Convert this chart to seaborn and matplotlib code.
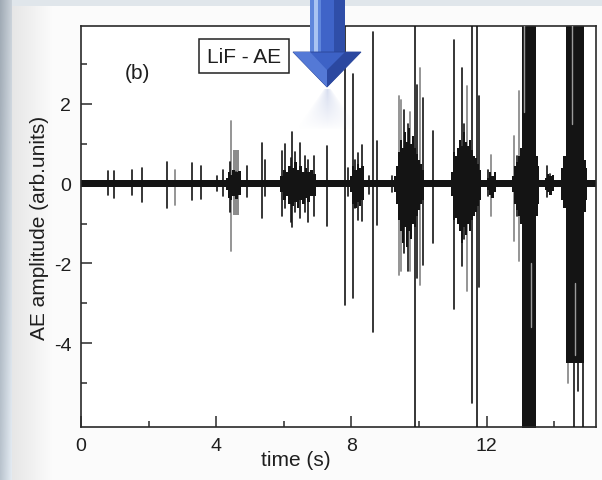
import numpy as np
import pandas as pd
import matplotlib
matplotlib.use("Agg")
import matplotlib.pyplot as plt
import seaborn as sns
from matplotlib.patches import Polygon
from matplotlib.ticker import FixedLocator

# ---------------------------------------------------------------
# Acoustic-emission record of a LiF crystal: isolated spikes
# (time in s, positive and negative peak amplitude, trace tone)
# ---------------------------------------------------------------
spike_time = [0.79, 0.99, 1.50, 1.80, 2.55, 2.78, 3.29, 3.54, 4.01, 4.21,
              4.40, 4.44, 4.60, 4.92, 5.37, 5.44, 5.96, 6.04, 6.20, 6.24,
              6.32, 6.48, 6.63, 6.73, 6.90, 7.27, 7.81, 7.90, 8.05, 8.12,
              8.20, 8.32, 8.52, 8.65, 8.75, 9.20, 9.40, 9.47, 9.55, 9.67,
              9.73, 9.88, 9.95, 10.02, 10.11, 10.43, 11.04, 11.26, 11.32, 11.41,
              11.56, 11.72, 11.78, 12.05, 12.12, 12.81, 12.90, 12.96, 13.78, 13.88,
              14.40, 14.60, 14.70, 14.85]
spike_high = [0.31, 0.31, 0.33, 0.38, 0.55, 0.33, 0.52, 0.44, 0.20, 0.34,
              0.55, 1.56, 0.30, 0.45, 1.02, 0.60, 0.81, 1.00, 0.63, 1.29,
              0.80, 1.02, 0.70, 0.60, 0.70, 0.95, 4.20, 0.40, 2.73, 0.60,
              0.77, 0.97, 0.20, 3.78, 1.06, 0.20, 2.18, 2.10, 1.85, 1.50,
              1.80, 4.20, 2.47, 2.89, 2.14, 1.31, 3.60, 2.89, 1.50, 2.43,
              4.20, 4.20, 2.20, 0.35, 0.72, 1.18, 0.70, 2.31, 0.43, 0.25,
              1.00, 1.00, 1.00, 1.00]
spike_low = [-0.28, -0.35, -0.29, -0.47, -0.60, -0.53, -0.40, -0.38, -0.19, -0.32,
             -0.70, -1.69, -0.30, -0.33, -0.86, -0.30, -0.82, -0.60, -0.95, -1.09,
             -0.70, -0.86, -0.70, -0.95, -0.80, -1.05, -3.03, -0.30, -2.86, -0.60,
             -0.90, -0.94, -0.25, -3.72, -1.03, -0.20, -2.28, -2.20, -1.75, -2.20,
             -2.20, -6.40, -2.36, -2.53, -2.03, -1.48, -3.15, -2.07, -1.40, -2.69,
             -5.50, -6.40, -2.60, -0.30, -0.82, -1.44, -0.80, -1.94, -0.33, -0.20,
             -5.00, -6.40, -5.20, -6.40]
spike_tone = ["black", "black", "black", "black", "black", "gray", "black", "black", "black", "black",
              "black", "gray", "black", "black", "black", "black", "black", "black", "black", "black",
              "black", "black", "black", "black", "black", "black", "black", "black", "black", "black",
              "black", "black", "black", "black", "black", "black", "gray", "gray", "black", "black",
              "gray", "black", "black", "gray", "black", "black", "black", "black", "black", "gray",
              "black", "black", "black", "black", "gray", "gray", "black", "gray", "black", "black",
              "gray", "black", "black", "black"]

# ragged envelopes of the dense bursts (one id per burst, values held until next time)
burst_id = ([0] * 7 + [1] * 4 + [2] * 14 + [3] * 7 + [4] * 16 + [5] * 16 + [6] * 5
            + [7] * 9 + [8] * 5 + [9] * 6)
burst_time = [4.30, 4.36, 4.42, 4.48, 4.56, 4.64, 4.72,
              4.47, 4.50, 4.66, 4.68,
              5.90, 5.98, 6.06, 6.14, 6.22, 6.30, 6.38, 6.46, 6.54, 6.62, 6.70, 6.78, 6.86, 6.94,
              7.95, 8.02, 8.09, 8.16, 8.23, 8.30, 8.37,
              9.25, 9.31, 9.37, 9.43, 9.49, 9.55, 9.61, 9.67, 9.73, 9.79, 9.85, 9.91, 9.97,
              10.03, 10.09, 10.15,
              10.95, 11.01, 11.07, 11.13, 11.19, 11.25, 11.31, 11.37, 11.43, 11.49, 11.55,
              11.61, 11.67, 11.73, 11.79, 11.85,
              12.00, 12.07, 12.14, 12.21, 12.28,
              12.76, 12.82, 12.88, 12.94, 13.00, 13.04, 13.47, 13.51, 13.56,
              13.72, 13.79, 13.86, 13.93, 14.00,
              14.21, 14.27, 14.34, 14.88, 14.93, 14.97]
burst_high = [0.15, 0.30, 0.22, 0.35, 0.28, 0.32, 0.15,
              0.10, 0.85, 0.85, 0.10,
              0.20, 0.35, 0.30, 0.45, 0.40, 0.55, 0.35, 0.45, 0.30, 0.40, 0.30, 0.35, 0.25, 0.15,
              0.20, 0.45, 0.35, 0.50, 0.40, 0.45, 0.15,
              0.20, 0.45, 0.80, 1.10, 0.90, 1.30, 1.05, 1.40, 1.00, 1.20, 0.90, 0.75, 0.60,
              0.50, 0.35, 0.20,
              0.30, 0.80, 0.70, 0.90, 1.10, 0.95, 1.30, 1.05, 0.95, 1.10, 0.85,
              0.70, 0.65, 0.50, 0.35, 0.20,
              0.15, 0.30, 0.20, 0.28, 0.12,
              0.20, 0.45, 0.55, 0.70, 0.90, 4.20, 0.70, 0.45, 0.15,
              0.15, 0.25, 0.18, 0.22, 0.10,
              0.40, 0.70, 4.20, 0.60, 0.40, 0.10]
burst_low = [-0.15, -0.35, -0.42, -0.30, -0.38, -0.28, -0.15,
             -0.10, -0.78, -0.78, -0.10,
             -0.20, -0.40, -0.30, -0.50, -0.55, -0.45, -0.60, -0.40, -0.50, -0.35, -0.45, -0.30,
             -0.30, -0.15,
             -0.20, -0.50, -0.60, -0.45, -0.55, -0.40, -0.15,
             -0.20, -0.50, -0.90, -1.20, -1.50, -1.10, -1.60, -1.20, -1.40, -1.00, -1.10, -0.80,
             -0.65, -0.50, -0.40, -0.20,
             -0.30, -0.90, -0.85, -1.00, -1.20, -1.50, -1.10, -1.30, -1.00, -1.20, -0.90,
             -0.80, -0.70, -0.55, -0.40, -0.20,
             -0.15, -0.28, -0.35, -0.22, -0.12,
             -0.20, -0.50, -0.65, -0.80, -1.00, -6.40, -0.80, -0.50, -0.15,
             -0.15, -0.22, -0.28, -0.18, -0.10,
             -0.40, -0.60, -4.50, -0.70, -0.40, -0.10]
burst_tone = ["black", "gray", "black", "black", "black", "black", "black", "black", "black", "black"]

# lighter streaks running through the two saturated bursts
streak_time = [13.12, 13.31, 14.52, 14.63]
streak_top = [4.20, -2.00, 4.20, -2.50]
streak_bottom = [1.80, -3.60, 1.50, -4.30]

noise_level = 0.09          # background noise half-width
record_length = 15.24       # s

x_ticks = [0, 4, 8, 12]
x_minor = [2, 6, 10, 14]
y_ticks = [-4, -2, 0, 2]
y_minor = [-5, -3, -1, 1, 3]

tones = {"black": "#141414", "gray": "#8c8c8c", "light": "#9a9a9a"}

spikes = pd.DataFrame({
    "time": np.repeat(spike_time, 2),
    "amp": np.ravel(np.column_stack([spike_low, spike_high])),
    "spike": np.repeat(np.arange(len(spike_time)), 2),
    "tone": np.repeat(spike_tone, 2),
})
streaks = pd.DataFrame({
    "time": np.repeat(streak_time, 2),
    "amp": np.ravel(np.column_stack([streak_bottom, streak_top])),
    "spike": np.repeat(np.arange(len(streak_time)), 2),
})
bursts = pd.DataFrame({"id": burst_id, "time": burst_time,
                       "high": burst_high, "low": burst_low})

sns.set_style("ticks")
plt.rcParams["font.family"] = ["Liberation Sans", "DejaVu Sans"]

W, H = 602, 481
fig = plt.figure(figsize=(W / 100, H / 100), dpi=100)

# ---- slide-like backdrop -------------------------------------------------
cols = np.arange(W)
rows = np.arange(H)
shade = np.clip((cols - 12) / 40.0, 0, 1)
page = 0.905 + (0.985 - 0.905) * shade
bg = np.repeat(np.repeat(page[None, :, None], H, axis=0), 3, axis=2)
left = np.array([0.63, 0.67, 0.71])
left_r = np.array([0.79, 0.82, 0.85])
for c in range(12):
    f = c / 11.0
    colr = left * (1 - f) + left_r * f
    vert = (rows / H)[:, None] * 0.10
    bg[:, c, :] = np.clip(colr[None, :] + vert, 0, 1)
bg[:7, 12:, :] = np.array([0.88, 0.905, 0.925])
bax = fig.add_axes([0, 0, 1, 1], zorder=0)
bax.imshow(bg, extent=(0, W, H, 0), aspect="auto", interpolation="bilinear")
bax.set_axis_off()

# ---- main panel -------------------------------------------------------------
ax = fig.add_axes([81 / W, 1 - 428 / H, (596 - 81) / W, (428 - 27) / H], zorder=2)
ax.set_facecolor("white")

ax.fill_between([0, record_length], -noise_level, noise_level,
                color=tones["black"], lw=0, zorder=2)
for bid, grp in bursts.groupby("id"):
    tone = burst_tone[bid]
    ax.fill_between(grp["time"], grp["low"], grp["high"], step="post",
                    color=tones[tone], lw=0,
                    zorder=1.5 if tone == "gray" else 2.5)

for tone, z, lw in (("gray", 1.8, 1.3), ("black", 2.6, 1.2)):
    sub = spikes[spikes["tone"] == tone]
    sns.lineplot(data=sub, x="time", y="amp", units="spike", estimator=None,
                 sort=False, color=tones[tone], lw=lw, ax=ax, zorder=z)
sns.lineplot(data=streaks, x="time", y="amp", units="spike", estimator=None,
             sort=False, color=tones["light"], lw=1.0, ax=ax, zorder=2.8)

ax.set_xlim(0, record_length)
ax.set_ylim(-6.09, 3.94)
ax.xaxis.set_major_locator(FixedLocator(x_ticks))
ax.xaxis.set_minor_locator(FixedLocator(x_minor))
ax.yaxis.set_major_locator(FixedLocator(y_ticks))
ax.yaxis.set_minor_locator(FixedLocator(y_minor))
ax.set_xticklabels([str(v) for v in x_ticks])
ax.set_yticklabels([str(v) for v in y_ticks])
ax.tick_params(which="both", direction="in", top=False, right=False,
               color="#2a2a2a", width=1.1, labelcolor="#1e1e1e", labelsize=14)
ax.tick_params(axis="x", which="major", length=8, pad=7.5)
ax.tick_params(axis="y", which="major", length=8, pad=7)
ax.tick_params(which="minor", length=4)
for sp in ax.spines.values():
    sp.set_visible(True)
    sp.set_color("#2a2a2a")
    sp.set_linewidth(1.2)

ax.set_xlabel("time (s)", fontsize=15, color="#1e1e1e")
ax.xaxis.set_label_coords(0.417, -0.058)
ax.set_ylabel("AE amplitude (arb.units)", fontsize=15, color="#1e1e1e")
ax.yaxis.set_label_coords(-0.062, 0.5)

ax.text(0.109, 0.885, "(b)", transform=ax.transAxes, ha="center", va="center",
        fontsize=15, color="#1e1e1e", zorder=5)
ax.text(0.3165, 0.925, "LiF - AE", transform=ax.transAxes, ha="center", va="center",
        fontsize=15, color="#1e1e1e", zorder=5,
        bbox=dict(boxstyle="square,pad=0.38", fc="white", ec="#222222", lw=1.1))

# ---- blue pointer arrow (pixel coordinates) -------------------------------------
oax = fig.add_axes([0, 0, 1, 1], zorder=5)
oax.set_axis_off()
oax.patch.set_alpha(0)

# soft reflection under the tip
gh, gw = 40, 64
gy, gx = np.mgrid[0:gh, 0:gw]
half = 4 + gy * (gw / 2 - 4) / gh
inside = np.abs(gx - gw / 2) < half
fade = np.clip(1 - gy / gh, 0, 1) * np.clip(1 - np.abs(gx - gw / 2) / (half + 1e-9), 0, 1)
glow = np.zeros((gh, gw, 4))
glow[..., 0], glow[..., 1], glow[..., 2] = 0.62, 0.68, 0.85
glow[..., 3] = np.where(inside, 0.40 * fade ** 0.8, 0)
oax.imshow(glow, extent=(295, 359, 130, 90), interpolation="bilinear", zorder=1)

oax.add_patch(Polygon([(310, -2), (345, -2), (345, 56), (310, 56)], closed=True,
                      fc="#3f64c8", ec="none", zorder=2))
oax.add_patch(Polygon([(310, -2), (321, -2), (321, 56), (310, 56)], closed=True,
                      fc="#5f86dc", ec="none", zorder=2))
oax.add_patch(Polygon([(314, -2), (318, -2), (318, 56), (314, 56)], closed=True,
                      fc="#a9c3f2", ec="none", zorder=2))
oax.add_patch(Polygon([(334, -2), (345, -2), (345, 56), (334, 56)], closed=True,
                      fc="#2f4ea8", ec="none", zorder=2))
oax.add_patch(Polygon([(293, 53), (361, 53), (327, 88)], closed=True,
                      fc="#3d62c6", ec="#2a4596", lw=0.6, zorder=3))
oax.add_patch(Polygon([(293, 53), (310, 53), (327, 71), (327, 88)], closed=True,
                      fc="#5479d6", ec="none", zorder=3))
oax.add_patch(Polygon([(345, 53), (361, 53), (327, 88), (327, 71)], closed=True,
                      fc="#2b48a0", ec="none", zorder=3))
oax.set_xlim(0, W)
oax.set_ylim(H, 0)

fig.savefig("out.png", dpi=100)
